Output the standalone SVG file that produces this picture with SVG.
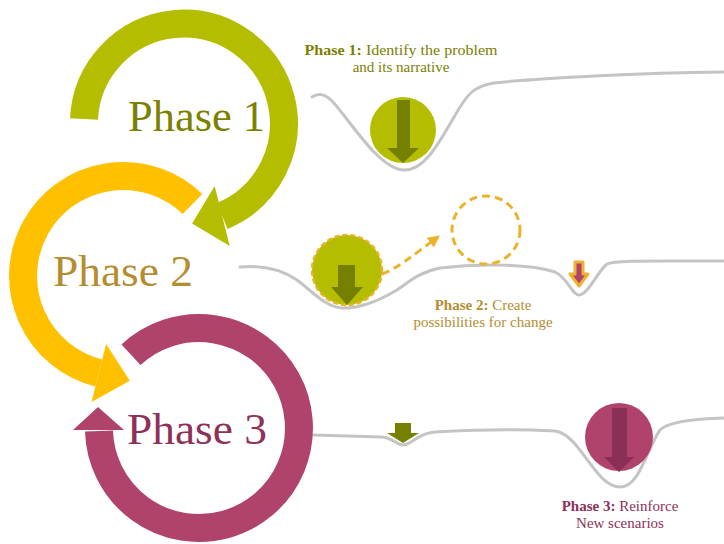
<svg xmlns="http://www.w3.org/2000/svg" width="724" height="544" viewBox="0 0 724 544">
<style>
.big{font-family:"Liberation Serif","Times New Roman",serif;font-size:44px}
.lbl{font-family:"Liberation Serif","Times New Roman",serif;font-size:15px;text-anchor:middle}
.b{font-weight:bold}
.ring{fill:none;stroke-width:28}
.land{fill:none;stroke:#C4C4C4;stroke-width:3;stroke-linecap:round}
.dash{fill:none;stroke:#E9B42A;stroke-width:3;stroke-dasharray:8 5}
</style>
<defs>
<marker id="ah" viewBox="0 0 10 10" refX="8" refY="5" markerWidth="4" markerHeight="4" orient="auto" markerUnits="strokeWidth">
<path d="M0,0 L10,5 L0,10 z" fill="#E9B42A"/>
</marker>
</defs>
<rect width="724" height="544" fill="#ffffff"/>

<g id="connectors">
<path class="land" d="M312,97 C318,93 324,93 332,101 C350,120 378,168 403,170 C428,172 445,130 462,104 C470,92 476,86 494,83 C540,78 640,73 724,72"/>
<path class="land" d="M240,267 C262,265 282,270 297,280 C312,291 325,307 342,308 C360,309 380,300 397,290 C410,281 420,272 440,268 C480,263 530,264 555,272 C568,278 572,295 579,295 C588,295 597,272 607,264 C615,260 650,261 724,261"/>
<path class="land" d="M313,435 L382,437 C393,438 397,445 403,445 C411,445 418,433 435,432 C470,430 520,429 555,431 C580,434 595,487 620,487 C640,487 647,448 660,430 C667,423 685,419 724,418"/>
<path class="dash" d="M382,274 C398,268 412,256 438,237" marker-end="url(#ah)"/>
</g>

<g id="phase1">
<path class="ring" stroke="#B5BD00" d="M84,119 A100,100 0 1 1 222.2,216"/>
<polygon fill="#B5BD00" points="214.7,185.9 192.1,223.5 229.7,246.1"/>
<text class="big" x="128" y="131" fill="#7B8000" textLength="137" lengthAdjust="spacingAndGlyphs">Phase 1</text>
</g>

<g id="phase2">
<path class="ring" stroke="#FFC000" d="M192.5,204 A100,100 0 1 0 98.8,373"/>
<polygon fill="#FFC000" points="106.1,343.9 129.8,380.7 91.5,402.1"/>
<text class="big" x="53" y="286" fill="#B38D30" textLength="140" lengthAdjust="spacingAndGlyphs">Phase 2</text>
</g>

<g id="phase3">
<path class="ring" stroke="#B0436B" d="M131,354.7 A100,100 0 1 1 99,431"/>
<polygon fill="#B0436B" points="73,430 98,407 124,430"/>
<text class="big" x="127" y="444" fill="#8E3058" textLength="140" lengthAdjust="spacingAndGlyphs">Phase 3</text>
</g>

<g id="ball1">
<circle cx="403" cy="130" r="33" fill="#B5BD00"/>
<polygon fill="#758000" points="397,100 410,100 410,148 419,148 403,163 387,148 397,148"/>
</g>

<g id="ball2">
<circle cx="347" cy="270" r="35" fill="#B5BD00" stroke="#E9B42A" stroke-width="2.5" stroke-dasharray="5 3"/>
<polygon fill="#758000" points="338,265 355,265 355,287 363,287 347,305 331,287 338,287"/>
</g>

<g id="ghost">
<circle class="dash" cx="486" cy="230" r="34"/>
</g>

<g id="smallarrow2">
<polygon fill="#B0436B" stroke="#F0B030" stroke-width="3" stroke-linejoin="round" points="575,262 583,262 583,274 588,274 579,286 570,274 575,274"/>
</g>

<g id="smallarrow3">
<polygon fill="#758000" points="395,423 411,423 411,433 419,433 403,443 387,433 395,433"/>
</g>

<g id="ball3">
<circle cx="619" cy="437" r="34" fill="#B0436B"/>
<polygon fill="#8A2F55" points="612,408 627,408 627,457 634,457 619,472 604,457 612,457"/>
</g>

<g id="label1">
<text class="lbl" fill="#7B8000" x="401" y="55" textLength="193" lengthAdjust="spacingAndGlyphs"><tspan class="b">Phase 1:</tspan> Identify the problem</text>
<text class="lbl" fill="#7B8000" x="401" y="72">and its narrative</text>
</g>
<g id="label2">
<text class="lbl" fill="#B38D30" x="483" y="310"><tspan class="b">Phase 2:</tspan> Create</text>
<text class="lbl" fill="#B38D30" x="483" y="327">possibilities for change</text>
</g>
<g id="label3">
<text class="lbl" fill="#8E3058" x="620" y="511"><tspan class="b">Phase 3:</tspan> Reinforce</text>
<text class="lbl" fill="#8E3058" x="620" y="528">New scenarios</text>
</g>
</svg>
